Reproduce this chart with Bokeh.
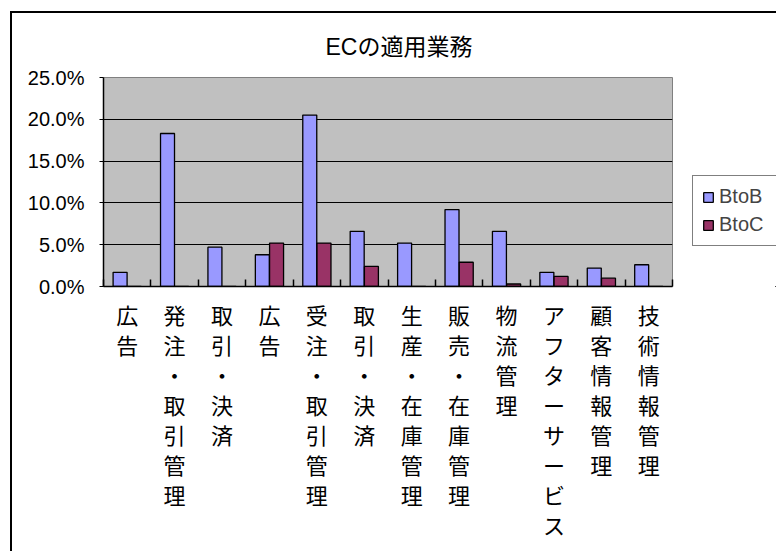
from bokeh.plotting import figure
from bokeh.layouts import row
from bokeh.models import (Range1d, FixedTicker, PrintfTickFormatter, Legend, LegendItem,
                          ColumnDataSource)
from bokeh.transform import dodge
from bokeh.embed import file_html
from bokeh.resources import INLINE

# ---- data ----
title_text = "ECの適用業務"
categories = ["広告", "発注・取引管理", "取引・決済", "広告", "受注・取引管理", "取引・決済",
              "生産・在庫管理", "販売・在庫管理", "物流管理", "アフターサービス",
              "顧客情報管理", "技術情報管理"]
btob = [1.7, 18.3, 4.7, 3.8, 20.5, 6.6, 5.2, 9.2, 6.6, 1.7, 2.2, 2.6]
btoc = [0.0, 0.0, 0.0, 5.2, 5.2, 2.4, 0.0, 2.9, 0.3, 1.2, 1.0, 0.0]
series_names = ["BtoB", "BtoC"]
series_colors = ["#9999FF", "#993366"]
y_ticks = [0, 5, 10, 15, 20, 25]

pos = list(range(len(categories)))
src = ColumnDataSource(dict(x=pos, btob=btob, btoc=btoc))

CJK = "Noto Sans CJK JP"
LAT = "Liberation Sans"
H = 538

p = figure(width=680, height=H, output_backend="svg", toolbar_location=None,
           x_range=Range1d(-0.5, len(categories) - 0.5), y_range=Range1d(0, 25),
           min_border_left=91, min_border_right=20, min_border_top=60,
           min_border_bottom=H - 273)

p.background_fill_color = "#C0C0C0"
p.border_fill_color = "white"
p.outline_line_color = "#808080"
p.outline_line_width = 1

# title
p.title.text = title_text
p.title.align = "left"
p.title.offset = 222
p.title.text_font = LAT + ", " + CJK
p.title.text_font_size = "23px"
p.title.text_font_style = "normal"
p.title.text_color = "black"
p.title.standoff = 36

# bars
r1 = p.vbar(x=dodge("x", -0.15, range=p.x_range), top="btob", width=0.295, source=src,
            fill_color=series_colors[0], line_color="black", line_width=1.3)
r2 = p.vbar(x=dodge("x", 0.15, range=p.x_range), top="btoc", width=0.295, source=src,
            fill_color=series_colors[1], line_color="black", line_width=1.3)

# grid
p.xgrid.visible = False
p.ygrid.ticker = FixedTicker(ticks=[t for t in y_ticks if 0 < t < 25])
p.ygrid.grid_line_color = "black"
p.ygrid.grid_line_width = 1.2

# y axis
ya = p.yaxis[0]
ya.ticker = FixedTicker(ticks=y_ticks)
ya.formatter = PrintfTickFormatter(format="%.1f%%")
ya.major_label_text_font = LAT
ya.major_label_text_font_size = "20px"
ya.major_label_text_color = "black"
ya.major_tick_out = 4
ya.major_tick_in = 0
ya.minor_tick_out = 0
ya.minor_tick_in = 0
ya.axis_line_color = "black"
ya.axis_line_width = 1.5
ya.major_tick_line_color = "black"
ya.major_label_standoff = 15

# x axis
xa = p.xaxis[0]
xa.ticker = FixedTicker(ticks=pos, minor_ticks=[i - 0.5 for i in pos] + [len(pos) - 0.5])
xa.major_label_overrides = {i: "\n".join(list(c)) for i, c in zip(pos, categories)}
xa.major_label_text_font = CJK
xa.major_label_text_font_size = "22px"
xa.major_label_text_line_height = 0.94
xa.major_label_text_color = "black"
xa.major_label_text_align = "center"
xa.major_tick_in = 0
xa.major_tick_out = 0
xa.minor_tick_in = 7
xa.minor_tick_out = 0
xa.minor_tick_line_color = "black"
xa.minor_tick_line_width = 1.5
xa.axis_line_color = "black"
xa.axis_line_width = 1.5
xa.major_label_standoff = 11

# legend panel: a separate figure to the right; its proxy bars are degenerate
# (bottom == top) and lie outside its ranges, so they only serve as legend swatches
q = figure(width=84, height=H, output_backend="svg", toolbar_location=None,
           x_range=Range1d(-40, -39), y_range=Range1d(100, 101),
           x_axis_type=None, y_axis_type=None,
           min_border_left=0, min_border_right=0, min_border_top=0, min_border_bottom=0)
q.outline_line_color = None
q.xgrid.visible = False
q.ygrid.visible = False
q.background_fill_color = "white"
q.border_fill_color = "white"
g1 = q.vbar(x="x", top="btob", bottom="btob", width=0.295, source=src,
            fill_color=series_colors[0], line_color="black", line_width=1.3)
g2 = q.vbar(x="x", top="btoc", bottom="btoc", width=0.295, source=src,
            fill_color=series_colors[1], line_color="black", line_width=1.3)

legend = Legend(items=[LegendItem(label=series_names[0], renderers=[g1]),
                       LegendItem(label=series_names[1], renderers=[g2])],
                location=(0, 40), orientation="vertical")
legend.label_text_font = LAT
legend.label_text_font_size = "20px"
legend.glyph_width = 12
legend.glyph_height = 12
legend.label_height = 22
legend.label_width = 70
legend.label_standoff = 5
legend.spacing = 5
legend.padding = 9
legend.margin = 0
legend.border_line_color = "black"
legend.border_line_width = 1
legend.background_fill_color = "white"
legend.background_fill_alpha = 1
q.add_layout(legend, "center")

layout = row(p, q)
layout.styles = {"margin-left": "10px", "margin-top": "11px",
                 "border-left": "2px solid black", "border-top": "2px solid black"}

open("out.html", "w").write(file_html(layout, INLINE))
